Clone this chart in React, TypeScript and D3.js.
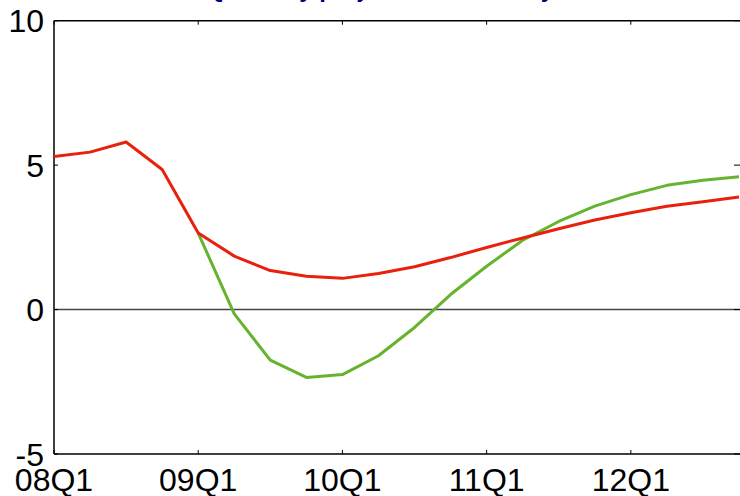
import React from "react";
import * as d3 from "d3";

const quarters = [
  "08Q1", "08Q2", "08Q3", "08Q4",
  "09Q1", "09Q2", "09Q3", "09Q4",
  "10Q1", "10Q2", "10Q3", "10Q4",
  "11Q1", "11Q2", "11Q3", "11Q4",
  "12Q1", "12Q2", "12Q3", "12Q4",
];
const redSeries = [5.3, 5.45, 5.8, 4.85, 2.65, 1.85, 1.35, 1.15, 1.08, 1.25, 1.48, 1.8, 2.15, 2.48, 2.8, 3.1, 3.35, 3.58, 3.73, 3.9];
const greenSeries: (number | null)[] = [null, null, null, null, 2.65, -0.15, -1.75, -2.35, -2.25, -1.6, -0.62, 0.52, 1.5, 2.4, 3.05, 3.58, 3.98, 4.3, 4.48, 4.6];
const yTicks = [-5, 0, 5, 10];
const xTickLabels = ["08Q1", "09Q1", "10Q1", "11Q1", "12Q1"];
const title = "Quarterly projection of activity";

export default function App() {
  const W = 740, H = 496;
  const left = 54, right = 739, top = 20.7, bottom = 454;
  const x = d3.scaleLinear().domain([0, quarters.length - 1]).range([left, right]);
  const y = d3.scaleLinear().domain([-5, 10]).range([bottom, top]);
  const line = d3.line<number | null>()
    .defined((d) => d !== null)
    .x((_, i) => x(i))
    .y((d) => y(d as number));
  const font = "'Liberation Sans', Arial, sans-serif";
  const xTickIdx = xTickLabels.map((l) => quarters.indexOf(l));
  return (
    <svg width={W} height={H} style={{ position: "absolute", left: 0, top: 0, background: "#fff" }}>
      <text x={380} y={-3.5} textAnchor="middle" fontFamily={font} fontSize={24} fontWeight="bold" fill="#000080">{title}</text>
      {/* zero line */}
      <line x1={left} x2={W} y1={y(0)} y2={y(0)} stroke="#444" strokeWidth={1.5} />
      {/* axes */}
      <line x1={left} x2={W} y1={top} y2={top} stroke="#000" strokeWidth={1.5} />
      <line x1={left} x2={W} y1={bottom} y2={bottom} stroke="#000" strokeWidth={1.5} />
      <line x1={left} x2={left} y1={top} y2={bottom} stroke="#000" strokeWidth={1.5} />
      {xTickIdx.map((i) => (
        <g key={"xt" + i}>
          <line x1={x(i)} x2={x(i)} y1={top} y2={top + 4} stroke="#000" strokeWidth={1} />
          <line x1={x(i)} x2={x(i)} y1={bottom} y2={bottom - 4} stroke="#000" strokeWidth={1} />
          <text x={x(i)} y={491} textAnchor="middle" fontFamily={font} fontSize={32} fill="#000">{quarters[i]}</text>
        </g>
      ))}
      {yTicks.map((v) => (
        <g key={"yt" + v}>
          <line x1={left} x2={left + 4} y1={y(v)} y2={y(v)} stroke="#000" strokeWidth={1} />
          <line x1={W - 6} x2={W} y1={y(v)} y2={y(v)} stroke="#000" strokeWidth={1} />
          <text x={left - 10} y={y(v)} dy="0.36em" textAnchor="end" fontFamily={font} fontSize={32} fill="#000">{v}</text>
        </g>
      ))}
      <path d={line(greenSeries) || ""} fill="none" stroke="#66b32e" strokeWidth={3} strokeLinejoin="round" />
      <path d={line(redSeries) || ""} fill="none" stroke="#e8200c" strokeWidth={3} strokeLinejoin="round" />
    </svg>
  );
}
